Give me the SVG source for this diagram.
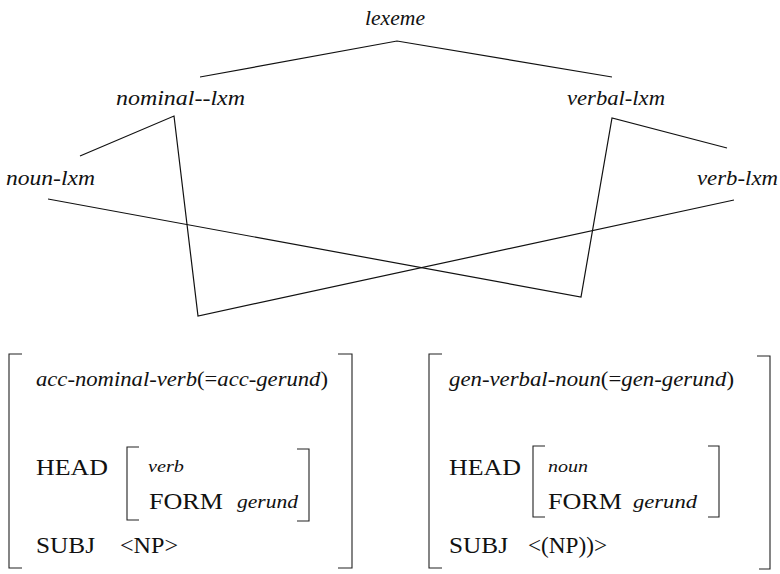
<svg xmlns="http://www.w3.org/2000/svg" width="780" height="574" viewBox="0 0 780 574">
<style>
.it{font-family:'Liberation Serif','DejaVu Serif','Times New Roman',serif;font-style:italic;fill:#111;}
.rm{font-family:'Liberation Serif','DejaVu Serif','Times New Roman',serif;fill:#111;}
.h{font-style:normal;}
.ln{fill:none;stroke:#111;stroke-width:1.2;}
.br{fill:none;stroke:#222;stroke-width:1.1;}
</style>
<rect width="780" height="574" fill="#fff"/>
<g id="connectors">
<polyline class="ln" points="200,77 397,41 612,77"/>
<polyline class="ln" points="80,156 174,116 198,316 734,200"/>
<polyline class="ln" points="727,148 612,118 581,297 48,199"/>
</g>
<g id="lexeme"><text class="it" x="365" y="25" font-size="20" textLength="60" lengthAdjust="spacingAndGlyphs">lexeme</text></g>
<g id="nominal-lxm"><text class="it" x="116" y="105" font-size="20" textLength="129" lengthAdjust="spacingAndGlyphs">nominal<tspan class="h">--</tspan>lxm</text></g>
<g id="verbal-lxm"><text class="it" x="567" y="105" font-size="20" textLength="98" lengthAdjust="spacingAndGlyphs">verbal<tspan class="h">-</tspan>lxm</text></g>
<g id="noun-lxm"><text class="it" x="6" y="185" font-size="20" textLength="89" lengthAdjust="spacingAndGlyphs">noun<tspan class="h">-</tspan>lxm</text></g>
<g id="verb-lxm"><text class="it" x="697" y="185" font-size="20" textLength="81" lengthAdjust="spacingAndGlyphs">verb<tspan class="h">-</tspan>lxm</text></g>
<g id="acc-gerund">
<path class="br" d="M22,354 H9 V568 H22"/>
<path class="br" d="M338,354 H352 V568 H338"/>
<path class="br" d="M139,447 H127 V520 H139"/>
<path class="br" d="M297,449 H309 V521 H297"/>
<text class="it" x="36" y="386" font-size="20" textLength="292" lengthAdjust="spacingAndGlyphs">acc<tspan class="h">-</tspan>nominal<tspan class="h">-</tspan>verb<tspan class="h">(=</tspan>acc<tspan class="h">-</tspan>gerund<tspan class="h">)</tspan></text>
<text class="rm" x="36" y="475" font-size="23" textLength="72" lengthAdjust="spacingAndGlyphs">HEAD</text>
<text class="it" x="148" y="472" font-size="17" textLength="36" lengthAdjust="spacingAndGlyphs">verb</text>
<text class="rm" x="149" y="509" font-size="23" textLength="74" lengthAdjust="spacingAndGlyphs">FORM</text>
<text class="it" x="237" y="508" font-size="18" textLength="61" lengthAdjust="spacingAndGlyphs">gerund</text>
<text class="rm" x="36" y="553" font-size="23" textLength="59" lengthAdjust="spacingAndGlyphs">SUBJ</text>
<text class="rm" x="120" y="553" font-size="23" textLength="58" lengthAdjust="spacingAndGlyphs">&lt;NP&gt;</text>
</g>
<g id="gen-gerund">
<path class="br" d="M442,354 H429 V568 H442"/>
<path class="br" d="M757,356 H770 V569 H759"/>
<path class="br" d="M545,446 H533 V517 H545"/>
<path class="br" d="M708,446 H719 V517 H708"/>
<text class="it" x="449" y="386" font-size="20" textLength="285" lengthAdjust="spacingAndGlyphs">gen<tspan class="h">-</tspan>verbal<tspan class="h">-</tspan>noun<tspan class="h">(=</tspan>gen<tspan class="h">-</tspan>gerund<tspan class="h">)</tspan></text>
<text class="rm" x="449" y="475" font-size="23" textLength="72" lengthAdjust="spacingAndGlyphs">HEAD</text>
<text class="it" x="548" y="472" font-size="17" textLength="40" lengthAdjust="spacingAndGlyphs">noun</text>
<text class="rm" x="548" y="509" font-size="23" textLength="74" lengthAdjust="spacingAndGlyphs">FORM</text>
<text class="it" x="633" y="508" font-size="18" textLength="64" lengthAdjust="spacingAndGlyphs">gerund</text>
<text class="rm" x="449" y="553" font-size="23" textLength="59" lengthAdjust="spacingAndGlyphs">SUBJ</text>
<text class="rm" x="528" y="553" font-size="23" textLength="79" lengthAdjust="spacingAndGlyphs">&lt;(NP))&gt;</text>
</g>
</svg>
